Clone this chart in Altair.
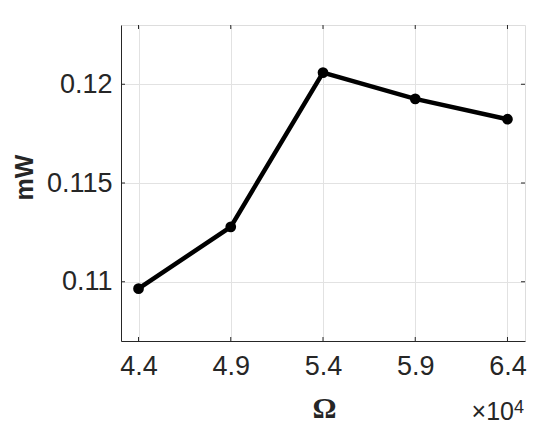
import altair as alt
import pandas as pd

omega = [44000, 49000, 54000, 59000, 64000]
power_mw = [0.10965, 0.11278, 0.12059, 0.11926, 0.11823]
x_ticks = [44000, 49000, 54000, 59000, 64000]
y_ticks = [0.11, 0.115, 0.12]

W, H = 404, 316
FONT = "Liberation Sans"
TXT = "#262626"
LBL = 27

df = pd.DataFrame({"omega": omega, "p": power_mw})
xt = pd.DataFrame({"t": x_ticks})
yt = pd.DataFrame({"t": y_ticks})

xscale = alt.Scale(domain=[43050, 64950], nice=False, zero=False)
yscale = alt.Scale(domain=[0.107, 0.123], nice=False, zero=False)

x_axis = alt.Axis(
    values=x_ticks, labelExpr="format(datum.value / 10000, '.1f')",
    grid=True, gridColor="#e2e2e2", gridWidth=1, ticks=False,
    domain=True, domainColor=TXT, domainWidth=1,
    labelFont=FONT, labelFontSize=LBL, labelColor=TXT, labelPadding=12,
    title="Ω", titleFont="Liberation Serif", titleFontSize=30, titleFontWeight="bold",
    titleColor=TXT, titleX=203, titleY=76, titleBaseline="alphabetic", titleAlign="center",
)
y_axis = alt.Axis(
    values=y_ticks, format="~g",
    grid=True, gridColor="#e2e2e2", gridWidth=1, ticks=False,
    domain=True, domainColor=TXT, domainWidth=1,
    labelFont=FONT, labelFontSize=LBL, labelColor=TXT, labelPadding=9,
    title="mW", titleFont=FONT, titleFontSize=25, titleFontWeight="bold",
    titleColor=TXT, titleX=-89, titleY=152, titleBaseline="alphabetic",
    titleAlign="center", titleAngle=270,
)

base = alt.Chart(df)
line = base.mark_line(color="black", strokeWidth=4.5).encode(
    x=alt.X("omega:Q", scale=xscale, axis=x_axis),
    y=alt.Y("p:Q", scale=yscale, axis=y_axis),
)
pts = base.mark_point(filled=True, color="black", size=115, opacity=1).encode(
    x=alt.X("omega:Q", scale=xscale),
    y=alt.Y("p:Q", scale=yscale),
)

tick_len = 4
xb = alt.Chart(xt).mark_rule(color=TXT, strokeWidth=1).encode(
    x=alt.X("t:Q", scale=xscale), y=alt.value(H), y2=alt.value(H - tick_len))
xtop = alt.Chart(xt).mark_rule(color=TXT, strokeWidth=1).encode(
    x=alt.X("t:Q", scale=xscale), y=alt.value(0), y2=alt.value(tick_len))
yl = alt.Chart(yt).mark_rule(color=TXT, strokeWidth=1).encode(
    y=alt.Y("t:Q", scale=yscale), x=alt.value(0), x2=alt.value(tick_len))
yr = alt.Chart(yt).mark_rule(color=TXT, strokeWidth=1).encode(
    y=alt.Y("t:Q", scale=yscale), x=alt.value(W), x2=alt.value(W - tick_len))

mult = alt.Chart(pd.DataFrame({"s": ["×10"]})).mark_text(
    font=FONT, fontSize=25, color=TXT, align="right", baseline="alphabetic"
).encode(text="s:N", x=alt.value(393), y=alt.value(395))
exp4 = alt.Chart(pd.DataFrame({"s": ["4"]})).mark_text(
    font=FONT, fontSize=18, color=TXT, align="left", baseline="alphabetic"
).encode(text="s:N", x=alt.value(393), y=alt.value(388))

chart = alt.layer(xb, xtop, yl, yr, line, pts, mult, exp4).properties(
    width=W, height=H,
    autosize=alt.AutoSizeParams(type="none"),
    padding={"left": 113, "top": 17, "right": 17, "bottom": 85},
).configure_view(stroke=TXT, strokeWidth=1).configure(background="white")

chart.save("out.html", embed_options={"renderer": "svg", "actions": False})
